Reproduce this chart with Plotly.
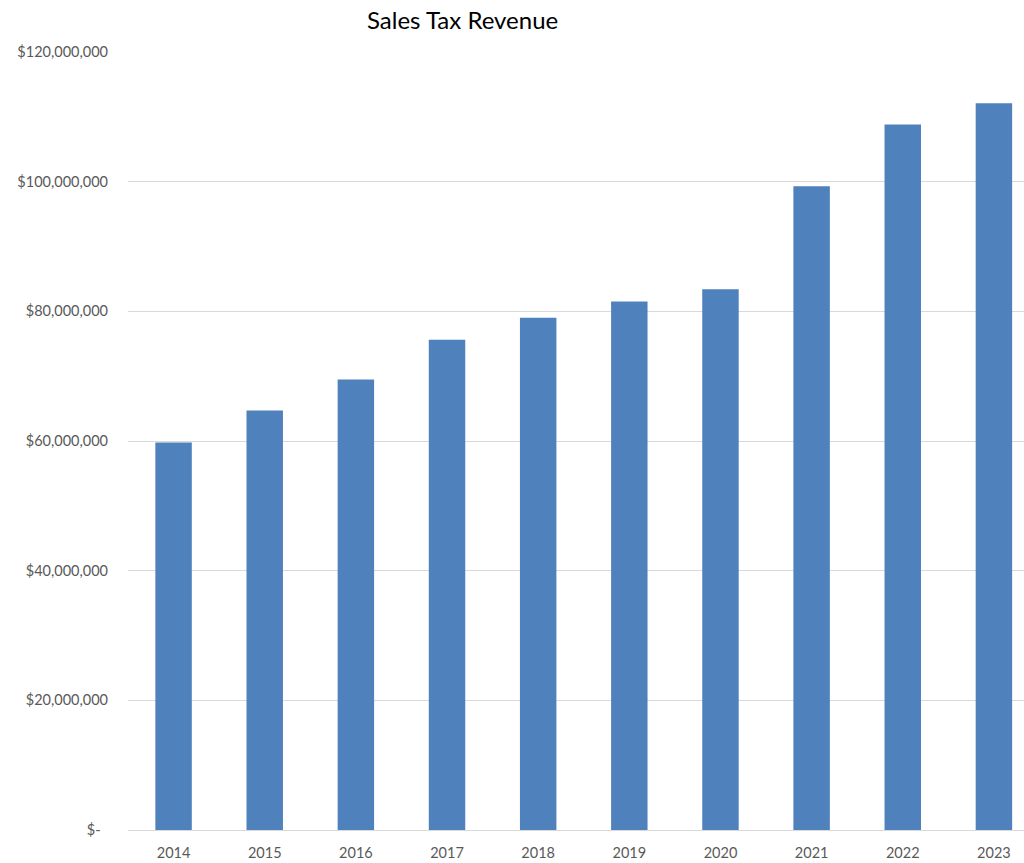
import plotly.graph_objects as go

years = ["2014", "2015", "2016", "2017", "2018", "2019", "2020", "2021", "2022", "2023"]
revenue = [59.75e6, 64.7e6, 69.5e6, 75.6e6, 79.0e6, 81.5e6, 83.4e6, 99.3e6, 108.8e6, 112.1e6]
y_ticks = [0, 20e6, 40e6, 60e6, 80e6, 100e6, 120e6]
y_tick_labels = ["$-\u00a0\u00a0", "$20,000,000", "$40,000,000", "$60,000,000",
                 "$80,000,000", "$100,000,000", "$120,000,000"]

fig = go.Figure(go.Bar(x=years, y=revenue, marker_color="#4f81bd", marker_line_width=0))

fig.update_layout(
    width=1024, height=863,
    margin=dict(l=128, r=0, t=52, b=33),
    paper_bgcolor="white", plot_bgcolor="white",
    bargap=0.6,
    showlegend=False,
    font=dict(family="Lato, 'Open Sans', sans-serif", size=14.5, color="#595959"),
    annotations=[dict(text="Sales Tax Revenue", xref="paper", yref="paper",
                      x=0.373, y=1, yshift=33, xanchor="center", yanchor="middle",
                      showarrow=False, font=dict(size=24, color="black"))],
)
fig.update_xaxes(type="category", range=[-0.5, 9.33], showgrid=False,
                 showline=True, linecolor="#d9d9d9", linewidth=1,
                 ticks="", ticklabelstandoff=10)
fig.update_yaxes(range=[0, 120e6], tickvals=y_ticks, ticktext=y_tick_labels,
                 showgrid=True, gridcolor="#d9d9d9", gridwidth=1,
                 zeroline=False, showline=False, ticks="", ticklabelstandoff=19)

fig.write_html("out.html",
               config={"displayModeBar": False},
               post_script="document.body.style.margin='0';document.body.style.overflow='hidden';")
